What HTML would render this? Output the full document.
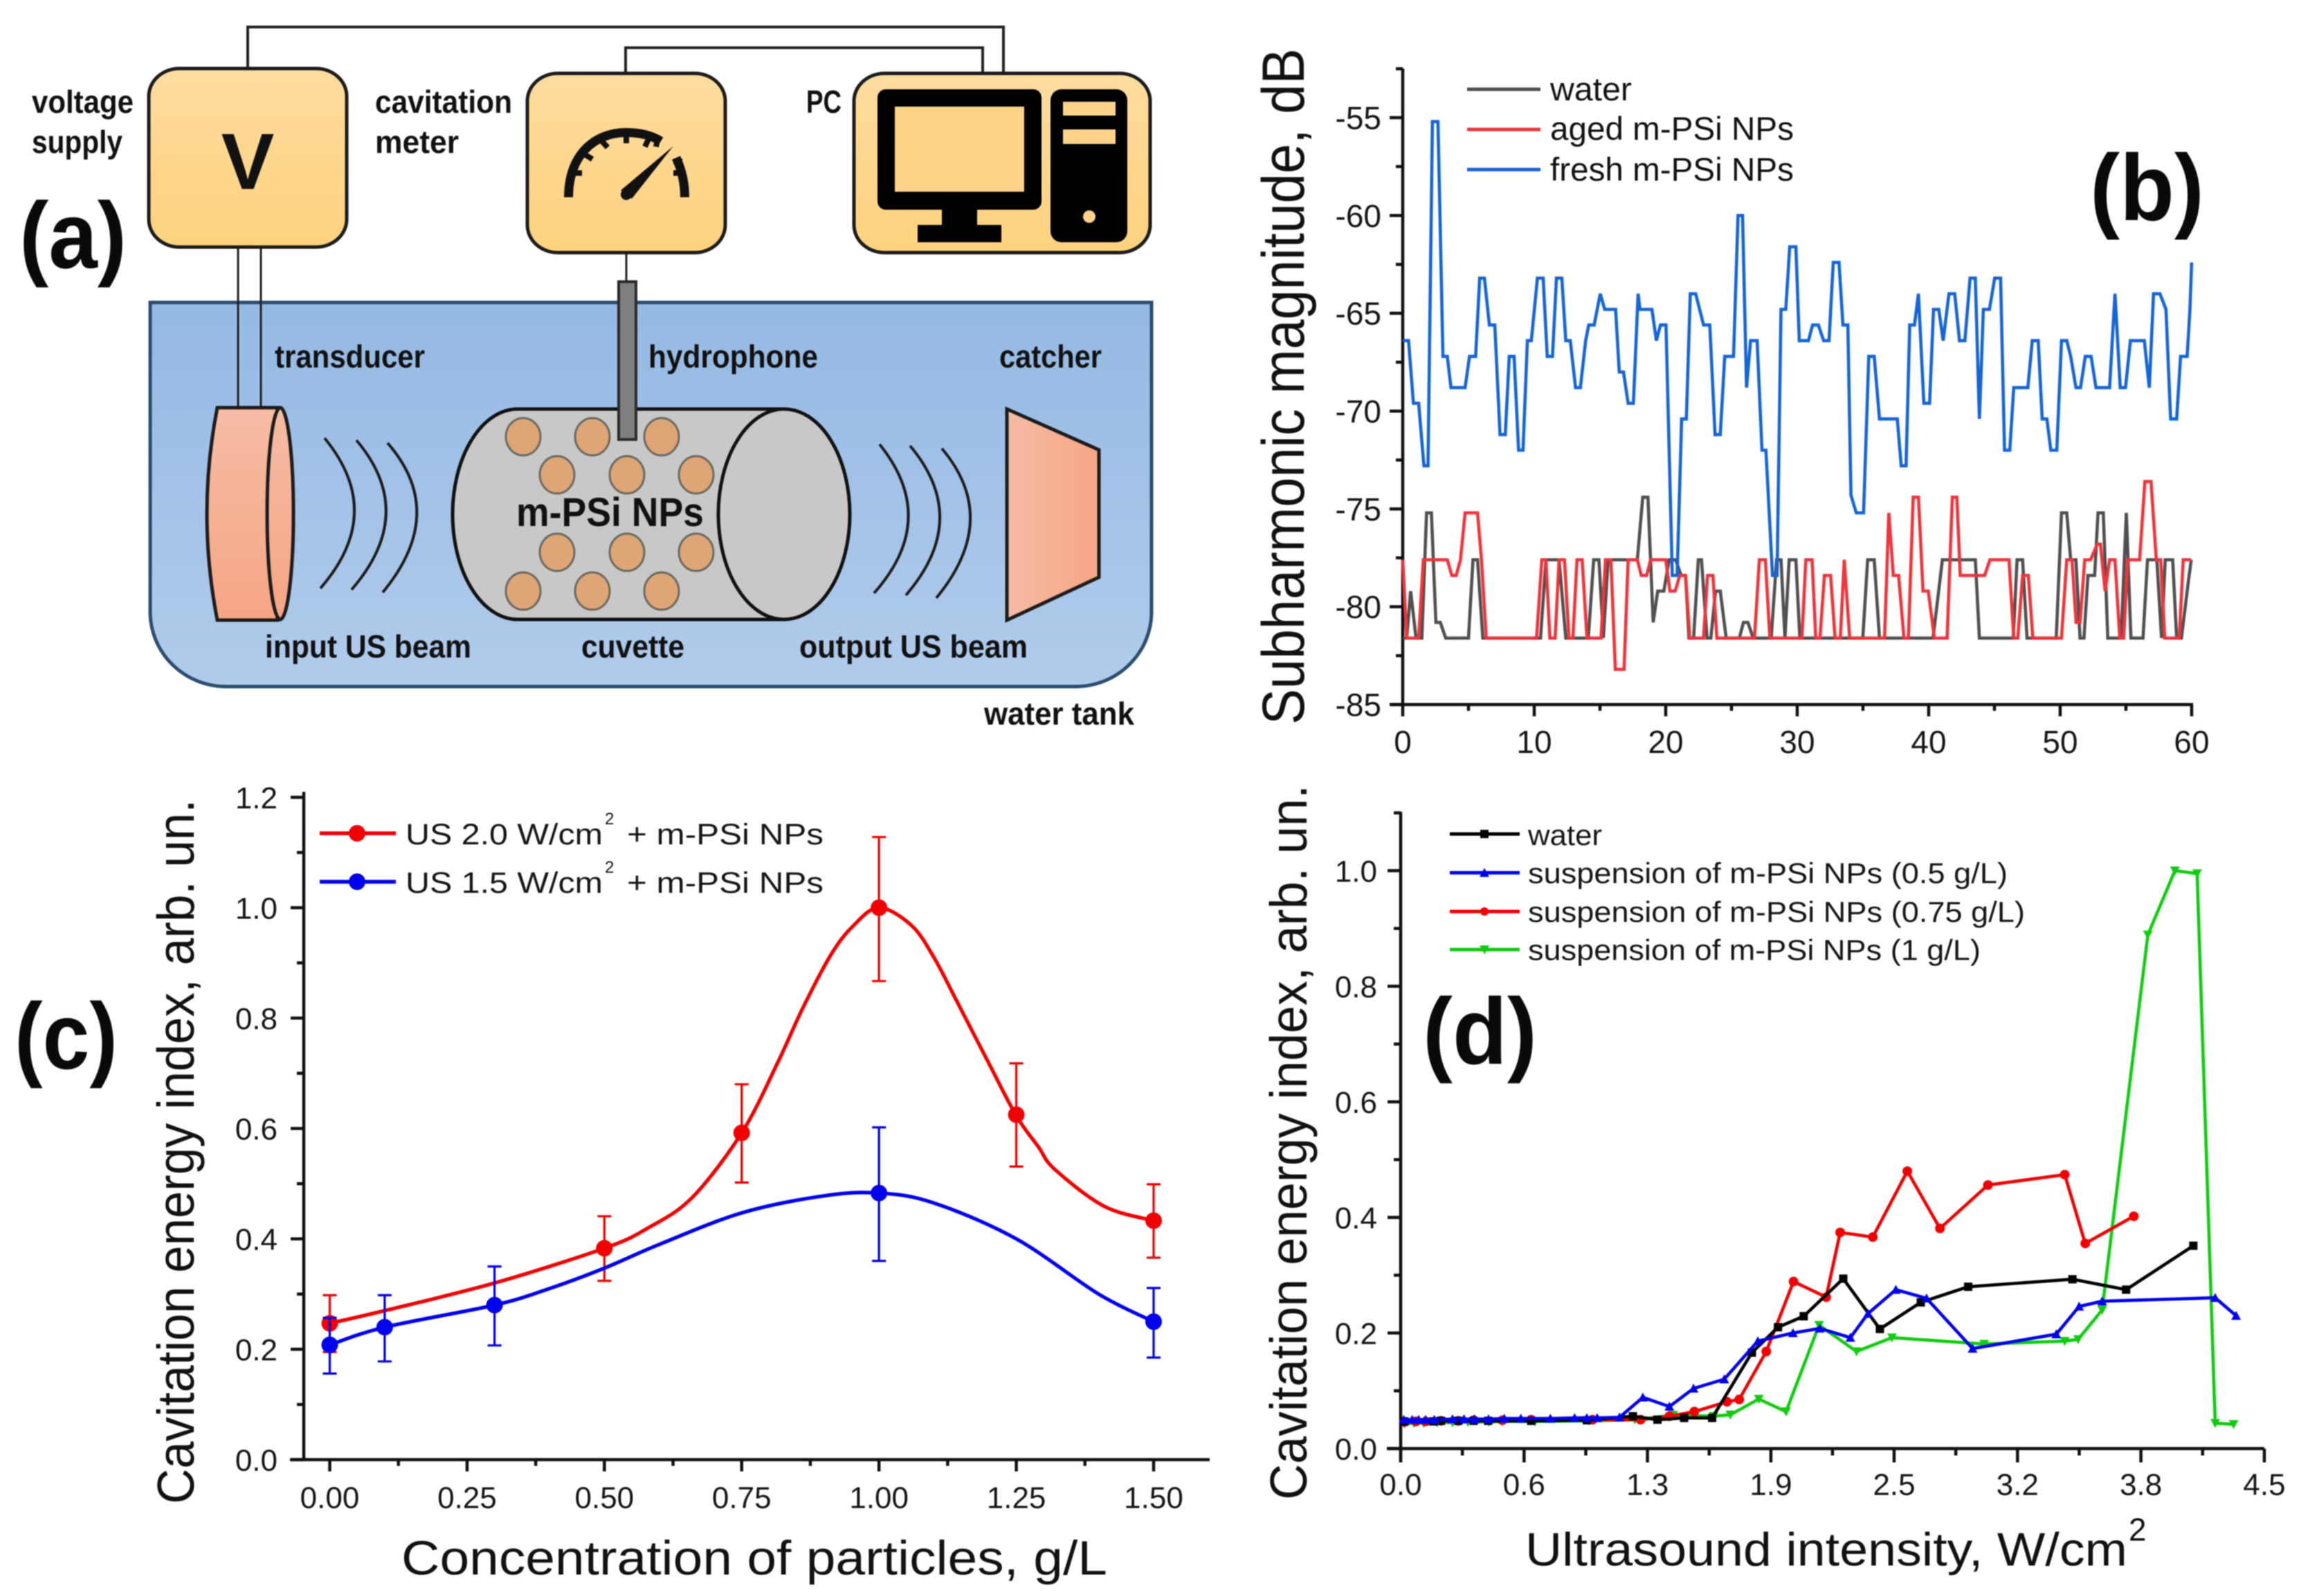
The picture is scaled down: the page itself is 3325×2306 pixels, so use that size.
<!DOCTYPE html>
<html lang="en">
<head>
<meta charset="utf-8">
<title>Cavitation experiment figure</title>
<style>
html,body{margin:0;padding:0;background:#fff;}
#figure{display:block;width:3325px;height:2306px;filter:blur(0.8px);}
text{font-family:"Liberation Sans",Arial,sans-serif;}
</style>
</head>
<body>
<svg id="figure" xmlns="http://www.w3.org/2000/svg" width="3325" height="2306" viewBox="0 0 3325 2306">
<defs>
<linearGradient id="boxFill" x1="0" y1="0" x2="0" y2="1"><stop offset="0" stop-color="#fedc9f"/><stop offset="1" stop-color="#fed27e"/></linearGradient>
<linearGradient id="tankFill" x1="0" y1="0" x2="0" y2="1"><stop offset="0" stop-color="#94b9e4"/><stop offset="1" stop-color="#b1cbea"/></linearGradient>
<linearGradient id="salmonV" x1="0" y1="0" x2="0" y2="1"><stop offset="0" stop-color="#f6bca5"/><stop offset="1" stop-color="#f6a584"/></linearGradient>
<linearGradient id="salmonH" x1="0" y1="0" x2="1" y2="0"><stop offset="0" stop-color="#f6bca5"/><stop offset="1" stop-color="#f6a584"/></linearGradient>
</defs>

<!-- Panel (a): experimental diagram -->
<g id="panel-a">
  <path d="M358 99V39H1450V106" fill="none" stroke="#222" stroke-width="4"/>
  <path d="M904 106V69H1420V106" fill="none" stroke="#222" stroke-width="4"/>
  <path d="M217 437H1664V884A110 108 0 0 1 1554 992H327A110 108 0 0 1 217 884Z" fill="url(#tankFill)" stroke="#2c4d70" stroke-width="5"/>
  <path d="M344 357V589M377 357V589" fill="none" stroke="#222" stroke-width="3"/>
  <path d="M905 365V407" fill="none" stroke="#222" stroke-width="3"/>
  <rect x="215" y="99" width="286" height="258" rx="44" ry="40" fill="url(#boxFill)" stroke="#1c1c1c" stroke-width="5"/>
  <text x="358" y="273" text-anchor="middle" font-size="115" font-weight="700" fill="#111">V</text>
  <rect x="762" y="106" width="286" height="259" rx="44" ry="40" fill="url(#boxFill)" stroke="#1c1c1c" stroke-width="5"/>
  <g fill="none" stroke="#111">
    <path d="M821.5 285C821.5 225 858 191.5 905 191.5C925 191.5 942 196 955 204" stroke-width="13"/>
    <path d="M977 228C985 245 989.5 265 989.5 285" stroke-width="13"/>
    <path d="M825 250H841M843 222L856 230M868 202L878 213M905 195V207M938 199L932 212M950 202L948 212M986 233H973M988 250H973" stroke-width="8"/>
    <polygon points="973,211 913,287 897,275" fill="#111" stroke="none"/>
    <circle cx="905" cy="281" r="8" fill="#111" stroke="none"/>
  </g>
  <rect x="1234" y="106" width="428" height="259" rx="44" ry="40" fill="url(#boxFill)" stroke="#1c1c1c" stroke-width="5"/>
  <g>
    <rect x="1268" y="129" width="237" height="174" rx="12" fill="#000"/>
    <rect x="1293" y="154" width="187" height="123" fill="#fed48a"/>
    <rect x="1361" y="303" width="51" height="24" fill="#000"/>
    <rect x="1326" y="325" width="121" height="25" fill="#000"/>
    <rect x="1518" y="129" width="111" height="221" rx="16" fill="#000"/>
    <rect x="1536" y="147" width="76" height="20" fill="#fed48a"/>
    <rect x="1536" y="187" width="76" height="21" fill="#fed48a"/>
    <circle cx="1574" cy="313" r="9" fill="#fed48a"/>
  </g>
  <g>
    <path d="M314 589H401V896H314Q284 742 314 589Z" fill="url(#salmonV)" stroke="#1c1c1c" stroke-width="5"/>
    <ellipse cx="405" cy="742" rx="19" ry="153" fill="url(#salmonV)" stroke="#1c1c1c" stroke-width="5"/>
  </g>
  <path d="M469 633Q558 741 463 850M515 636Q604 741 508 852M560 640Q648 741 553 856" fill="none" stroke="#1c1c1c" stroke-width="4"/>
  <g>
    <path d="M748 591H1133V895H748A94 152 0 0 1 748 591Z" fill="#c8c8c8" stroke="#111" stroke-width="5"/>
    <ellipse cx="1133" cy="743" rx="95" ry="152" fill="#c8c8c8" stroke="#111" stroke-width="5"/>
  </g>
  <g fill="#dea577" stroke="#6a6a60" stroke-width="3">
    <ellipse cx="756" cy="631" rx="25" ry="27"/><ellipse cx="856" cy="631" rx="25" ry="27"/><ellipse cx="956" cy="631" rx="25" ry="27"/>
    <ellipse cx="805" cy="686" rx="25" ry="27"/><ellipse cx="906" cy="686" rx="25" ry="27"/><ellipse cx="1006" cy="686" rx="25" ry="27"/>
    <ellipse cx="805" cy="798" rx="25" ry="27"/><ellipse cx="906" cy="798" rx="25" ry="27"/><ellipse cx="1006" cy="798" rx="25" ry="27"/>
    <ellipse cx="756" cy="854" rx="25" ry="27"/><ellipse cx="856" cy="854" rx="25" ry="27"/><ellipse cx="956" cy="854" rx="25" ry="27"/>
  </g>
  <rect x="894" y="407" width="25" height="228" fill="#7f7f7f" stroke="#2a2a2a" stroke-width="4"/>
  <path d="M1271 642Q1358 750 1263 857M1315 644Q1404 750 1309 860M1361 648Q1447 750 1353 864" fill="none" stroke="#1c1c1c" stroke-width="4"/>
  <polygon points="1455,591 1588,650 1588,834 1455,896" fill="url(#salmonH)" stroke="#1c1c1c" stroke-width="5"/>

  <g font-weight="700" font-size="46" fill="#111" lengthAdjust="spacingAndGlyphs">
    <text x="46" y="163" textLength="147" lengthAdjust="spacingAndGlyphs">voltage</text>
    <text x="46" y="221" textLength="131" lengthAdjust="spacingAndGlyphs">supply</text>
    <text x="542" y="163" textLength="198" lengthAdjust="spacingAndGlyphs">cavitation</text>
    <text x="542" y="221" textLength="121" lengthAdjust="spacingAndGlyphs">meter</text>
    <text x="1165" y="163" textLength="51" lengthAdjust="spacingAndGlyphs">PC</text>
    <text x="397" y="531" textLength="217" lengthAdjust="spacingAndGlyphs">transducer</text>
    <text x="937" y="531" textLength="245" lengthAdjust="spacingAndGlyphs">hydrophone</text>
    <text x="1444" y="531" textLength="148" lengthAdjust="spacingAndGlyphs">catcher</text>
    <text x="746" y="760" font-size="58" textLength="271" lengthAdjust="spacingAndGlyphs">m-PSi NPs</text>
    <text x="383" y="950" textLength="298" lengthAdjust="spacingAndGlyphs">input US beam</text>
    <text x="840" y="950" textLength="149" lengthAdjust="spacingAndGlyphs">cuvette</text>
    <text x="1155" y="950" textLength="330" lengthAdjust="spacingAndGlyphs">output US beam</text>
    <text x="1422" y="1047" textLength="217" lengthAdjust="spacingAndGlyphs">water tank</text>
  </g>
</g>

<!-- Panel letters -->
<g font-weight="700" font-size="136" fill="#0a0a0a">
  <text x="28" y="387" textLength="155" lengthAdjust="spacingAndGlyphs">(a)</text>
  <text x="3020" y="318" textLength="165" lengthAdjust="spacingAndGlyphs">(b)</text>
  <text x="21" y="1544" textLength="149" lengthAdjust="spacingAndGlyphs">(c)</text>
  <text x="2056" y="1537" textLength="165" lengthAdjust="spacingAndGlyphs">(d)</text>
</g>

<g id="panel-b"></g>
<g id="panel-c"></g>
<g id="panel-d"></g>
</svg>

<script>
/* ---------- Panel (b) data: time (s) and subharmonic magnitude (dB) ---------- */
const bXTicks = [0,10,20,30,40,50,60];
const bYTicks = [-85,-80,-75,-70,-65,-60,-55];
const waterTime = [0,.3,.6,1.01,1.45,1.81,2.18,2.52,2.86,3.27,
5,5.34,5.69,6.09,10.48,10.89,11.89,12.4,14.11,14.52,
14.92,15.26,15.62,17.84,18.25,18.65,19.05,19.39,19.86,20.26,
20.76,21.17,21.51,21.77,22.12,22.48,22.72,23.14,23.43,23.79,
24.15,24.6,25.6,25.91,26.25,26.65,28.02,28.43,28.77,29.07,
29.39,29.9,30.2,34.99,35.36,35.86,36.26,40.33,41.04,43.55,
43.86,46.43,46.72,47.14,47.48,49.7,50.1,50.5,50.8,51.2,
51.51,51.81,52.11,52.62,52.88,53.28,53.62,54.63,55.03,55.38,
56.3,56.64,57.35,57.71,57.99,58.56,58.86,59.22,59.77,59.97];
const waterDb = [-81.6,-81.6,-79.2,-81.6,-81.6,-75.2,-75.2,-80.8,-80.8,-81.6,
-81.6,-77.6,-77.6,-81.6,-81.6,-77.6,-77.6,-81.6,-81.6,-77.6,
-77.6,-81.6,-77.6,-77.6,-74.4,-74.4,-80.8,-79.2,-79.2,-77.6,
-77.6,-78.4,-78.4,-81.6,-81.6,-77.6,-77.6,-81.6,-81.6,-79.2,
-79.2,-81.6,-81.6,-80.8,-80.8,-81.6,-81.6,-77.6,-77.6,-81.6,
-77.6,-77.6,-81.6,-81.6,-77.6,-77.6,-81.6,-81.6,-77.6,-77.6,
-81.6,-81.6,-77.6,-77.6,-81.6,-81.6,-75.2,-75.2,-77.6,-77.6,
-81.6,-81.6,-78.4,-78.4,-75.2,-75.2,-81.6,-81.6,-75.2,-81.6,
-81.6,-77.6,-77.6,-81.6,-77.6,-77.6,-81.6,-81.6,-78.6,-77.6];
const agedTime = [0,.3,1.21,1.57,3.39,3.73,4.07,4.39,4.74,5.69,
5.99,6.35,10.18,10.58,10.89,11.19,11.59,11.89,12.3,12.64,
12.94,13.25,13.65,14.01,15.08,15.42,15.83,16.17,16.83,17.14,
17.84,18.14,18.55,18.85,20,20.32,20.72,21.07,21.51,21.83,
22.88,23.18,23.59,23.89,26.75,27.12,27.58,27.92,30.36,30.66,
31.13,31.41,31.73,32.07,32.54,32.88,33.28,33.58,33.99,36.64,
36.97,37.31,37.71,38.12,38.46,38.82,39.22,39.57,39.97,40.43,
41.4,41.8,42.14,42.4,44.26,44.66,46.11,46.47,46.78,47.14,
47.58,47.92,50.1,50.5,50.9,51.21,51.51,51.87,52.31,52.82,
53.06,53.42,53.76,54.17,54.53,54.83,55.13,56.04,56.44,56.91,
57.31,57.65,57.95,59.06,59.36,59.97];
const agedDb = [-77.6,-81.6,-81.6,-77.6,-77.6,-78.4,-78.4,-77.6,-75.2,-75.2,
-77.6,-81.6,-81.6,-77.6,-77.6,-81.6,-81.6,-77.6,-77.6,-81.6,
-81.6,-77.6,-77.6,-81.6,-81.6,-77.6,-77.6,-83.2,-83.2,-77.6,
-77.6,-78.4,-78.4,-77.6,-77.6,-79.2,-79.2,-78.4,-78.4,-81.6,
-81.6,-78.4,-78.4,-81.6,-81.6,-77.6,-77.6,-81.6,-81.6,-77.6,
-77.6,-81.6,-81.6,-78.4,-78.4,-81.6,-81.6,-77.6,-81.6,-81.6,
-75.2,-78.4,-78.4,-81.6,-81.6,-74.4,-74.4,-79.2,-79.2,-81.6,
-81.6,-74.4,-74.4,-78.4,-78.4,-77.6,-77.6,-81.6,-81.6,-78.4,
-78.4,-81.6,-81.6,-77.6,-77.6,-80.8,-80.8,-77.6,-77.6,-76.8,
-76.8,-79.2,-77.6,-77.6,-81.6,-81.6,-77.6,-77.6,-73.6,-73.6,
-77.6,-77.6,-81.6,-81.6,-77.6,-77.6];
const freshTime = [0,.44,.81,1.21,1.61,1.92,2.26,2.68,3.06,3.39,
3.67,4.74,5.08,5.54,5.85,6.21,6.59,7.0,7.4,7.8,
8.1,8.47,8.81,9.15,9.48,9.78,10.24,10.68,10.99,11.39,
11.69,12.1,12.4,12.74,13.14,13.51,13.91,14.15,14.56,15.02,
15.36,16.19,16.47,16.79,17.14,17.54,17.9,18.04,18.95,19.29,
19.6,20.02,20.5,20.87,21.21,21.57,21.87,22.28,22.88,23.35,
23.75,24.15,24.49,25.16,25.5,25.84,26.15,26.45,26.95,27.32,
27.62,28.12,28.47,28.77,29.13,29.43,29.9,
30.16,30.86,31.17,31.61,32.01,32.42,32.74,33.18,33.48,33.85,
34.09,34.49,35.05,35.44,35.86,36.26,37.61,37.91,38.28,38.56,
38.92,39.22,39.63,40.07,40.37,40.77,41.1,41.54,41.98,42.34,
42.75,43.15,43.55,43.86,44.16,44.62,45.02,45.47,45.77,46.17,
46.47,47.54,47.88,48.33,48.63,48.99,49.29,49.74,50.1,50.5,
50.8,51.2,51.55,51.91,52.35,52.72,53.76,54.17,54.57,54.97,
55.34,56.4,56.78,57.1,57.59,58.05,58.4,58.86,59.16,59.66,
59.87,60];
const freshDb = [-66.4,-66.4,-69.6,-69.6,-72.8,-72.8,-55.2,-55.2,-67.2,-67.2,
-68.8,-68.8,-67.2,-67.2,-63.2,-63.2,-65.6,-65.6,-71.2,-71.2,
-67.2,-67.2,-72,-72,-66.4,-66.4,-63.2,-63.2,-67.2,-67.2,
-63.2,-63.2,-66.4,-66.4,-68.8,-68.8,-66.4,-65.6,-65.6,-64,
-64.8,-64.8,-68,-68,-69.6,-69.6,-64,-64.8,-64.8,-66.4,
-65.6,-65.6,-78.4,-78.4,-70.4,-70.4,-64,-64,-65.6,-65.6,
-71.2,-71.2,-67.2,-67.2,-60,-60,-68.8,-66.4,-66.4,-72,
-72,-78.4,-78.4,-64.8,-64.8,-61.6,-61.6,
-66.4,-66.4,-65.6,-65.6,-66.4,-66.4,-62.4,-62.4,-65.6,-65.6,
-74.3,-75.2,-75.2,-67.2,-67.2,-70.4,-70.4,-72.8,-72.8,-65.6,
-65.6,-64,-69.6,-69.6,-64.8,-64.8,-66.4,-64,-64,-66.4,
-66.4,-63.2,-63.2,-70.4,-64.8,-64.8,-63.2,-63.2,-72,-72,
-68.8,-68.8,-66.4,-66.4,-70.4,-70.4,-72,-72,-66.4,-66.4,
-67.2,-68.8,-68.8,-67.2,-67.2,-68.8,-68.8,-64,-68.8,-68.8,
-66.4,-66.4,-68.8,-64,-64,-64.8,-70.4,-70.4,-67.2,-67.2,
-64.8,-62.4];

/* ---------- Panel (c) data: concentration (g/L) vs index ---------- */
const cXTicks = [0,.25,.5,.75,1,1.25,1.5];
const cXTickLabels = ['0.00','0.25','0.50','0.75','1.00','1.25','1.50'];
const cYTicks = [0,.2,.4,.6,.8,1,1.2];
const us20Conc = [0,.5,.75,1,1.25,1.5];
const us20Index = [.247,.383,.592,1,.625,.433];
const us20Upper = [.298,.441,.68,1.128,.718,.499];
const us20Lower = [.195,.324,.502,.867,.531,.366];
const us20CurveX = [0,.1,.3,.5,.58,.66,.75,.8145,.861,.912,.953,1,1.059,1.1,1.142,1.198,1.25,1.29,1.32,1.41,1.5];
const us20CurveY = [.247,.27,.32,.383,.42,.475,.592,.717,.8175,.914,.967,1,.968,.91,.83,.722,.623,.567,.526,.459,.433];
const us15Conc = [0,.1,.3,1,1.5];
const us15Index = [.208,.24,.28,.483,.25];
const us15Upper = [.257,.298,.35,.602,.311];
const us15Lower = [.156,.178,.207,.36,.185];
const us15CurveX = [0,.1,.3,.4,.5,.6,.75,.9,1,1.1,1.25,1.4,1.5];
const us15CurveY = [.208,.24,.28,.31,.347,.39,.447,.478,.483,.465,.4,.3,.25];

/* ---------- Panel (d) data: intensity (W/cm2) vs index ---------- */
const dXTickValues = [0,.643,1.286,1.929,2.571,3.214,3.857,4.5];
const dXTickLabels = ['0.0','0.6','1.3','1.9','2.5','3.2','3.8','4.5'];
const dYTicks = [0,.2,.4,.6,.8,1];
const dWaterX = [.02,.17,.21,.3,.38,.456,.68,.97,1.21,1.338,1.477,1.623,1.83,1.966,2.1,2.306,2.497,2.71,2.957,3.5,3.78,4.13];
const dWaterY = [.047,.047,.048,.048,.048,.048,.048,.049,.056,.05,.053,.053,.166,.21,.229,.294,.207,.253,.28,.293,.275,.351];
const dLowRedX = [.02,.08,.13,.21,.3,.38,.53,.68,1.0,1.25,1.4,1.53,1.7,1.764,1.905,2.047,2.217,2.29,2.46,2.64,2.81,3.06,3.46,3.567,3.82];
const dLowRedY = [.046,.047,.047,.048,.048,.049,.049,.05,.05,.05,.056,.064,.081,.085,.168,.289,.262,.374,.366,.48,.381,.456,.474,.355,.402];
const dBlueX = [.016,.06,.094,.13,.175,.27,.33,.385,.458,.54,.626,.78,.906,.97,1.024,1.14,1.262,1.4,1.526,1.686,1.861,2.044,2.184,2.343,2.435,2.58,2.74,2.98,3.416,3.535,3.655,4.244,4.353];
const dBlueY = [.05,.05,.05,.05,.05,.051,.051,.051,.051,.052,.052,.052,.053,.053,.053,.054,.0886,.0727,.104,.12,.186,.2,.208,.192,.2335,.275,.26,.173,.198,.246,.255,.261,.23];
const dGreenX = [.02,.07,.12,.19,.27,.35,.46,.53,.7,.98,1.22,1.42,1.63,1.718,1.866,2.008,2.18,2.375,2.56,3.04,3.46,3.53,3.655,3.893,4.034,4.15,4.244,4.34];
const dGreenY = [.043,.044,.044,.045,.045,.046,.046,.047,.047,.048,.05,.058,.056,.0586,.0858,.064,.2136,.168,.192,.181,.186,.189,.24,.889,1,.995,.044,.042];

/* ---------- helpers ---------- */
const NS = 'http://www.w3.org/2000/svg';
function make(parent, tag, attrs, text) {
  const el = document.createElementNS(NS, tag);
  for (const k in attrs) el.setAttribute(k, attrs[k]);
  if (text !== undefined) el.textContent = text;
  parent.appendChild(el);
  return el;
}
function linear(d0, d1, r0, r1) {
  return function (v) { return r0 + (v - d0) * (r1 - r0) / (d1 - d0); };
}
function polyPoints(xs, ys, sx, sy) {
  return xs.map(function (x, i) { return sx(x).toFixed(1) + ',' + sy(ys[i]).toFixed(1); }).join(' ');
}
function splinePath(xs, ys, sx, sy) {
  const p = xs.map(function (x, i) { return [sx(x), sy(ys[i])]; });
  let d = 'M' + p[0][0].toFixed(1) + ' ' + p[0][1].toFixed(1);
  for (let i = 0; i < p.length - 1; i++) {
    const a = p[Math.max(i - 1, 0)], b = p[i], c = p[i + 1], e = p[Math.min(i + 2, p.length - 1)];
    d += 'C' + (b[0] + (c[0] - a[0]) / 6).toFixed(1) + ' ' + (b[1] + (c[1] - a[1]) / 6).toFixed(1) + ' ' +
         (c[0] - (e[0] - b[0]) / 6).toFixed(1) + ' ' + (c[1] - (e[1] - b[1]) / 6).toFixed(1) + ' ' +
         c[0].toFixed(1) + ' ' + c[1].toFixed(1);
  }
  return d;
}
/* Draws axis lines, ticks and tick labels for a panel. */
function drawAxes(root, o) {
  const axes = make(root, 'g', { stroke: '#111', 'stroke-width': 4.5, fill: 'none' });
  
  
  const yLine = make(axes, 'line', { x1: o.axisX, x2: o.axisX, y1: o.yTop, y2: o.axisY + (o.yOver || 0) });
  
  
  const xLine = make(axes, 'line', { x1: o.xStart, x2: o.xEnd, y1: o.axisY, y2: o.axisY });
  
  
  o.xTicks.forEach(function (v, i) {
    const px = o.sx(v);
    const t = make(axes, 'line', { x1: px, x2: px, y1: o.axisY, y2: o.axisY + o.xMajorLen });
    
    
    const lb = make(root, 'text', { x: px, y: o.xLabelY, 'text-anchor': 'middle', 'font-size': o.fontSize, fill: '#151515' }, o.xLabels[i]);
    
    
  });
  o.xMinor.forEach(function (v) {
    const px = o.sx(v);
    const t = make(axes, 'line', { x1: px, x2: px, y1: o.axisY, y2: o.axisY + o.xMinorLen });
    
    
  });
  o.yTicks.forEach(function (v, i) {
    const py = o.sy(v);
    const t = make(axes, 'line', { x1: o.axisX - 19, x2: o.axisX, y1: py, y2: py });
    
    
    const lb = make(root, 'text', { x: o.yLabelX, y: py + o.fontSize * 0.36, 'text-anchor': 'end', 'font-size': o.fontSize, fill: '#151515' }, o.yLabels[i]);
    
    
  });
  o.yMinor.forEach(function (v) {
    const py = o.sy(v);
    const t = make(axes, 'line', { x1: o.axisX - 10, x2: o.axisX, y1: py, y2: py });
    
    
  });
}
function midpoints(a) {
  const out = [];
  for (let i = 0; i < a.length - 1; i++) out.push((a[i] + a[i + 1]) / 2);
  return out;
}
function marker(parent, shape, x, y, color, s) {
  if (shape === 'square') return make(parent, 'rect', { x: x - s, y: y - s, width: 2 * s, height: 2 * s, fill: color });
  if (shape === 'up') return make(parent, 'polygon', { points: x + ',' + (y - s - 1) + ' ' + (x - s - 1) + ',' + (y + s) + ' ' + (x + s + 1) + ',' + (y + s), fill: color });
  if (shape === 'down') return make(parent, 'polygon', { points: x + ',' + (y + s + 1) + ' ' + (x - s - 1) + ',' + (y - s) + ' ' + (x + s + 1) + ',' + (y - s), fill: color });
  return make(parent, 'circle', { cx: x, cy: y, r: s, fill: color });
}

/* ---------- Panel (b) ---------- */
(function () {
  const root = document.getElementById('panel-b');
  const sx = linear(0, 60, 2027, 3167);
  const sy = linear(-85, -55, 1018, 170);
  drawAxes(root, {
    sx: sx, sy: sy, axisX: 2027, axisY: 1018, yTop: 99, xStart: 2008, xEnd: 3169, xMajorLen: 17, xMinorLen: 9,
    xTicks: bXTicks, xLabels: bXTicks.map(String), xMinor: midpoints(bXTicks), xLabelY: 1088,
    yTicks: bYTicks, yLabels: bYTicks.map(String), yMinor: midpoints(bYTicks).concat([-52.5]), yLabelX: 1996, fontSize: 46
  });
  const series = [
    ['water', waterTime, waterDb, '#505050'],
    ['aged', agedTime, agedDb, '#f0343c'],
    ['fresh', freshTime, freshDb, '#1565d8']
  ];
  series.forEach(function (s) {
    const line = make(root, 'polyline', { points: polyPoints(s[1], s[2], sx, sy), fill: 'none', stroke: s[3], 'stroke-width': 4.6, 'stroke-linejoin': 'miter', 'stroke-miterlimit': 3 });
    
    
  });
  const legend = [['water', '#505050', 129, 145, 118], ['aged m-PSi NPs', '#f0343c', 187, 202, 352], ['fresh m-PSi NPs', '#1565d8', 245, 261, 352]];
  legend.forEach(function (l) {
    const sw = make(root, 'line', { x1: 2120, x2: 2226, y1: l[2], y2: l[2], stroke: l[1], 'stroke-width': 5 });
    
    
    const tx = make(root, 'text', { x: 2240, y: l[3], 'font-size': 47, fill: '#111', textLength: l[4], lengthAdjust: 'spacingAndGlyphs' }, l[0]);
    
    
  });
  const yt = make(root, 'text', { transform: 'translate(1884,1047) rotate(-90) scale(1,1.12)', 'font-size': 77, fill: '#111', textLength: 977, lengthAdjust: 'spacingAndGlyphs' }, 'Subharmonic magnitude, dB');
  
  
})();

/* ---------- Panel (c) ---------- */
(function () {
  const root = document.getElementById('panel-c');
  const sx = linear(0, 1.5, 476.5, 1667);
  const sy = linear(0, 1.2, 2109, 1152);
  drawAxes(root, {
    sx: sx, sy: sy, axisX: 439, axisY: 2109, yTop: 1144, xStart: 419, xEnd: 1748, xMajorLen: 17, xMinorLen: 9,
    xTicks: cXTicks, xLabels: cXTickLabels, xMinor: midpoints(cXTicks), xLabelY: 2179,
    yTicks: cYTicks, yLabels: cYTicks.map(function (v) { return v.toFixed(1); }), yMinor: midpoints(cYTicks), yLabelX: 401, fontSize: 44
  });
  const series = [
    ['us-1.5', us15Conc, us15Index, us15Upper, us15Lower, us15CurveX, us15CurveY, '#0000ee'],
    ['us-2.0', us20Conc, us20Index, us20Upper, us20Lower, us20CurveX, us20CurveY, '#f00000']
  ];
  /* red drawn first, blue on top */
  [series[1], series[0]].forEach(function (s) {
    const color = s[7];
    const curve = make(root, 'path', { d: splinePath(s[5], s[6], sx, sy), fill: 'none', stroke: color, 'stroke-width': 5.2 });
    
    
    s[1].forEach(function (x, i) {
      const px = sx(x);
      const bar = make(root, 'path', {
        d: 'M' + px + ' ' + sy(s[3][i]) + 'V' + sy(s[4][i]) + 'M' + (px - 10) + ' ' + sy(s[3][i]) + 'H' + (px + 10) + 'M' + (px - 10) + ' ' + sy(s[4][i]) + 'H' + (px + 10),
        fill: 'none', stroke: color, 'stroke-width': 3.2
      });
      
      
      const pt = make(root, 'circle', { cx: px, cy: sy(s[2][i]), r: 12, fill: color });
      
      
    });
  });
  const legend = [['US 2.0 W/cm', '+ m-PSi NPs', '#f00000', 1204, 1220], ['US 1.5 W/cm', '+ m-PSi NPs', '#0000ee', 1274, 1290]];
  legend.forEach(function (l) {
    const sw = make(root, 'line', { x1: 462, x2: 572, y1: l[3], y2: l[3], stroke: l[2], 'stroke-width': 5.5 });
    
    
    const dot = make(root, 'circle', { cx: 516, cy: l[3], r: 12, fill: l[2] });
    
    
    const t1 = make(root, 'text', { x: 586, y: l[4], 'font-size': 43, fill: '#151515', textLength: 285, lengthAdjust: 'spacingAndGlyphs' }, l[0]);
    
    
    const sup = make(root, 'text', { x: 874, y: l[4] - 29, 'font-size': 24, fill: '#151515' }, '2');
    
    
    const t2 = make(root, 'text', { x: 906, y: l[4], 'font-size': 43, fill: '#151515', textLength: 284, lengthAdjust: 'spacingAndGlyphs' }, l[1]);
    
    
  });
  const xt = make(root, 'text', { x: 580, y: 2275, 'font-size': 70, fill: '#111', textLength: 1020, lengthAdjust: 'spacingAndGlyphs' }, 'Concentration of particles, g/L');
  
  
  const yt = make(root, 'text', { transform: 'translate(280,2173) rotate(-90) scale(1,1.1)', 'font-size': 68, fill: '#111', textLength: 1018, lengthAdjust: 'spacingAndGlyphs' }, 'Cavitation energy index, arb. un.');
  
  
})();

/* ---------- Panel (d) ---------- */
(function () {
  const root = document.getElementById('panel-d');
  const sx = linear(0, 4.5, 2024, 3272);
  const sy = linear(0, 1, 2093, 1258);
  drawAxes(root, {
    sx: sx, sy: sy, axisX: 2024, axisY: 2093, yTop: 1173, yOver: 20, xStart: 2004, xEnd: 3272, xMajorLen: 20, xMinorLen: 10,
    xTicks: dXTickValues, xLabels: dXTickLabels, xMinor: midpoints(dXTickValues), xLabelY: 2160,
    yTicks: dYTicks, yLabels: dYTicks.map(function (v) { return v.toFixed(1); }), yMinor: midpoints(dYTicks).concat([1.1]), yLabelX: 1990, fontSize: 44
  });
  const series = [
    ['green', dGreenX, dGreenY, '#10cc10', 'down', 6],
    ['red', dLowRedX, dLowRedY, '#f00000', 'circle', 7],
    ['black', dWaterX, dWaterY, '#000000', 'square', 6],
    ['blue', dBlueX, dBlueY, '#0000ee', 'up', 6]
  ];
  series.forEach(function (s) {
    const line = make(root, 'polyline', { points: polyPoints(s[1], s[2], sx, sy), fill: 'none', stroke: s[3], 'stroke-width': 4.6 });
    
    
    s[1].forEach(function (x, i) {
      const m = marker(root, s[4], sx(x), sy(s[2][i]), s[3], s[5]);
      
      
    });
  });
  const legend = [
    ['water', '#000000', 'square', 1205, 1221, 107],
    ['suspension of m-PSi NPs (0.5 g/L)', '#0000ee', 'up', 1261, 1276, 693],
    ['suspension of m-PSi NPs (0.75 g/L)', '#f00000', 'circle', 1317, 1332, 718],
    ['suspension of m-PSi NPs (1 g/L)', '#10cc10', 'down', 1372, 1387, 654]
  ];
  legend.forEach(function (l) {
    const sw = make(root, 'line', { x1: 2095, x2: 2196, y1: l[3], y2: l[3], stroke: l[1], 'stroke-width': 5 });
    
    
    const m = marker(root, l[2], 2145, l[3], l[1], 6);
    
    
    const tx = make(root, 'text', { x: 2208, y: l[4], 'font-size': 42, fill: '#151515', textLength: l[5], lengthAdjust: 'spacingAndGlyphs' }, l[0]);
    
    
  });
  const xt = make(root, 'text', { x: 2204, y: 2262, 'font-size': 68, fill: '#111', textLength: 870, lengthAdjust: 'spacingAndGlyphs' }, 'Ultrasound intensity, W/cm');
  
  
  const sup = make(root, 'text', { x: 3076, y: 2226, 'font-size': 46, fill: '#111' }, '2');
  
  
  const yt = make(root, 'text', { transform: 'translate(1888,2167) rotate(-90) scale(1,1.1)', 'font-size': 68, fill: '#111', textLength: 1033, lengthAdjust: 'spacingAndGlyphs' }, 'Cavitation energy index, arb. un.');
  
  
})();
</script>
</body>
</html>
